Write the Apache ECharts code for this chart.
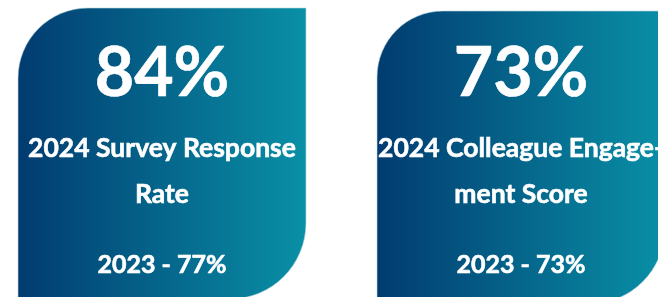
<!DOCTYPE html>
<html>
<head>
<meta charset="utf-8">
<script src="https://cdn.jsdelivr.net/npm/echarts@6/dist/echarts.min.js"></script>
<style>
  html, body { margin: 0; padding: 0; background: #fff; }
  #main { width: 658px; height: 297px; }
</style>
</head>
<body>
<div id="main"></div>
<script>
// data
const currentScores = [84, 73];
const titleLines = [
    ['2024 Survey Response', 'Rate'],
    ['2024 Colleague Engage-', 'ment Score']
];
const priorYear = 2023;
const priorScores = [77, 73];

// card boxes (layout only)
const cards = [
    { x: 18, y: 8, w: 288, h: 291, r: [70, 0, 76, 0] },
    { x: 377, y: 11, w: 288, h: 293, r: [66, 0, 76, 0] }
];

const chart = echarts.init(document.getElementById('main'));
const font = 'Lato, "Open Sans", sans-serif';

function label(text, x, y, size) {
    return {
        type: 'text',
        x: x, y: y,
        style: {
            text: text,
            fill: '#fff',
            stroke: '#fff', lineWidth: 0.6,
            fontFamily: font, fontWeight: 'bold', fontSize: size,
            align: 'center', verticalAlign: 'middle'
        }
    };
}

let elements = [];
cards.forEach(function (c, i) {
    const cx = c.x + c.w / 2;
    elements.push({
        type: 'rect',
        shape: { x: c.x, y: c.y, width: c.w, height: c.h, r: c.r },
        style: {
            fill: new echarts.graphic.LinearGradient(0, 0, 1, 0, [
                { offset: 0, color: '#013b70' },
                { offset: 1, color: '#0990a6' }
            ]),
            stroke: 'rgba(190,215,225,0.6)',
            lineWidth: 1
        }
    });
    // big number
    elements.push(label(currentScores[i] + '%', cx, 74, 68));
    // title lines
    titleLines[i].forEach(function (t, k) {
        elements.push(label(t, cx, 148 + k * 46, 26.5));
    });
    // prior year
    elements.push(label(priorYear + ' - ' + priorScores[i] + '%', cx, 265, 25));
});

chart.setOption({
    animation: false,
    graphic: { elements: elements }
});
</script>
</body>
</html>
